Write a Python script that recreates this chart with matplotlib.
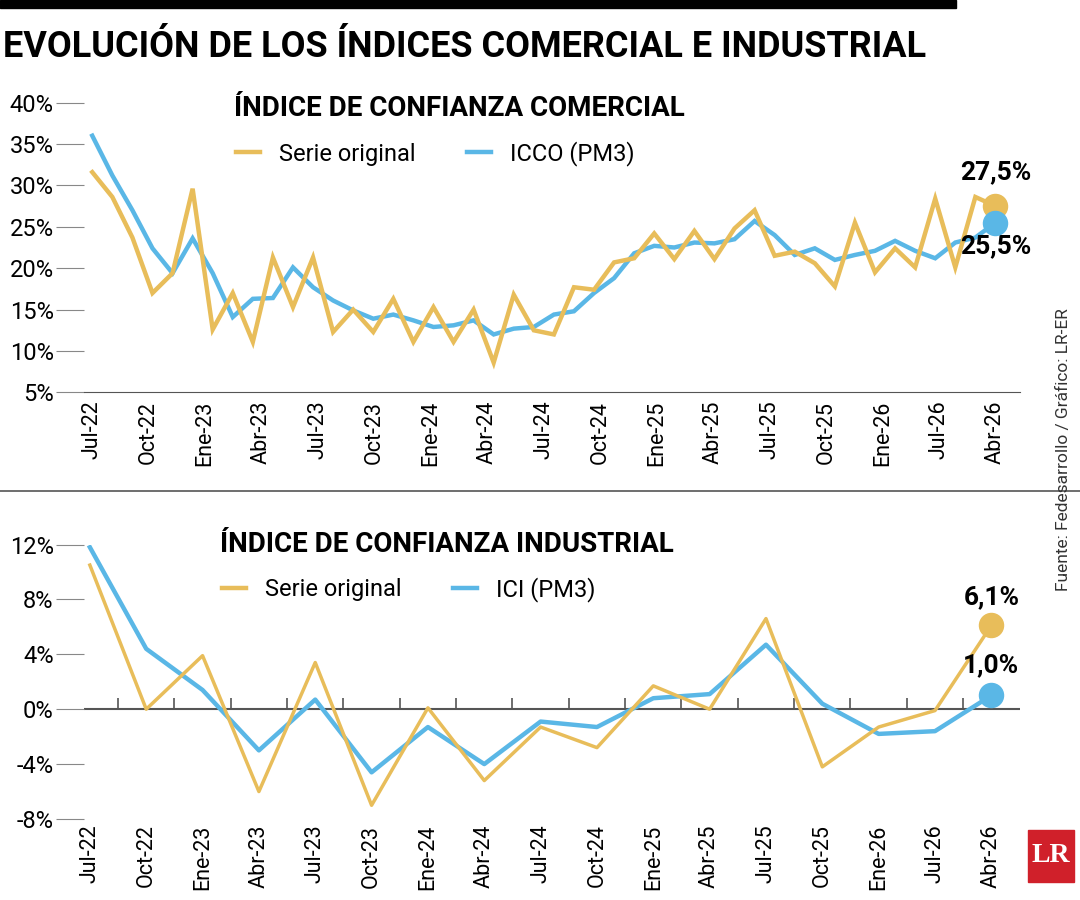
import matplotlib.pyplot as plt
import numpy as np

plt.rcParams["font.family"] = ["Liberation Sans Narrow", "Roboto", "DejaVu Sans"]

ORANGE = "#e8bd5a"
BLUE = "#5ab7e6"

# --------------------------------------------------
# Data
# --------------------------------------------------

com_labels = ["Jul-22", "Oct-22", "Ene-23", "Abr-23", "Jul-23", "Oct-23", "Ene-24", "Abr-24",
              "Jul-24", "Oct-24", "Ene-25", "Abr-25", "Jul-25", "Oct-25", "Ene-26", "Jul-26", "Abr-26"]

com_original = [31.6, 28.6, 23.7, 17.0, 19.4, 29.6, 12.6, 17.0, 11.1, 21.3, 15.3, 21.3,
                12.3, 15.0, 12.3, 16.3, 11.1, 15.3, 11.1, 15.0, 8.6, 16.8, 12.5, 12.0,
                17.7, 17.4, 20.7, 21.2, 24.2, 21.1, 24.5, 21.1, 24.8, 27.0, 21.5, 22.0,
                20.6, 17.8, 25.5, 19.5, 22.4, 20.1, 28.4, 20.1, 28.6, 27.5]
com_pm3 = [36.0, 31.2, 27.0, 22.4, 19.4, 23.6, 19.4, 14.1, 16.3, 16.4, 20.1, 17.7,
           16.1, 14.9, 13.9, 14.4, 13.7, 12.9, 13.1, 13.7, 12.0, 12.7, 12.9, 14.4,
           14.8, 17.0, 18.8, 21.8, 22.7, 22.5, 23.1, 23.0, 23.5, 25.7, 24.0, 21.6,
           22.4, 21.0, 21.6, 22.1, 23.3, 22.1, 21.2, 23.1, 23.7, 25.5]

ind_labels = com_labels
ind_original = [10.5, 0.0, 3.9, -6.0, 3.4, -7.0, 0.1, -5.2, -1.3, -2.8, 1.7, 0.0,
                6.6, -4.2, -1.3, -0.1, 6.1]
ind_pm3 = [11.8, 4.4, 1.4, -3.0, 0.7, -4.6, -1.3, -4.0, -0.9, -1.3, 0.8, 1.1,
           4.7, 0.4, -1.8, -1.6, 1.0]


def fmt_pct(v):
    return f"{v:.1f}%".replace(".", ",")


fig = plt.figure(figsize=(10.8, 9), dpi=100)

# header bar and title
fig.add_artist(plt.Rectangle((0, 0.991), 0.885, 0.009, transform=fig.transFigure,
                             color="black"))
fig.text(0.003, 0.948, "EVOLUCIÓN DE LOS ÍNDICES COMERCIAL E INDUSTRIAL",
         fontsize=26, fontweight="bold", va="center")

# --------------------------------------------------
# Commercial panel
# --------------------------------------------------

ax1 = fig.add_axes([0.078, 0.564, 0.866, 0.322])
x1 = np.arange(len(com_original))
ax1.plot(x1, com_pm3, color=BLUE, lw=3.2, solid_joinstyle="miter")
ax1.plot(x1, com_original, color=ORANGE, lw=3.2, solid_joinstyle="miter")
ax1.scatter([x1[-1]], [com_original[-1]], s=300, color=ORANGE, zorder=5)
ax1.scatter([x1[-1]], [com_pm3[-1]], s=300, color=BLUE, zorder=5)
ax1.text(x1[-1], com_original[-1] + 2.6, fmt_pct(com_original[-1]), fontsize=19,
         fontweight="bold", ha="center", va="bottom")
ax1.text(x1[-1], com_pm3[-1] - 1.4, fmt_pct(com_pm3[-1]), fontsize=19,
         fontweight="bold", ha="center", va="top")

ax1.set_xlim(-0.4, 46.2)
ax1.set_ylim(5, 40)
ax1.set_yticks(range(5, 41, 5))
ax1.set_yticklabels([f"{v}%" for v in range(5, 41, 5)], fontsize=17)
ax1.set_xticks(np.linspace(0, len(com_original) - 1, len(com_labels)))
ax1.set_xticklabels(com_labels, rotation=90, fontsize=15.5)
ax1.tick_params(axis="y", length=20, color="#888888", pad=2)
ax1.tick_params(axis="x", length=0, pad=6)
for s in ["top", "right", "left"]:
    ax1.spines[s].set_visible(False)
ax1.spines["bottom"].set_color("#555555")
ax1.text(0.16, 0.98, "ÍNDICE DE CONFIANZA COMERCIAL", transform=ax1.transAxes,
         fontsize=20, fontweight="bold", va="center")
l1, = ax1.plot([], [], color=ORANGE, lw=3.2)
l2, = ax1.plot([], [], color=BLUE, lw=3.2)
ax1.legend([l1, l2], ["Serie original", "ICCO (PM3)"], loc="upper left",
           bbox_to_anchor=(0.14, 0.94), ncol=2, frameon=False, fontsize=17,
           handlelength=1.0, columnspacing=2.2)

# separator
fig.add_artist(plt.Line2D([0, 1], [0.455, 0.455], transform=fig.transFigure,
                          color="#555555", lw=1.2))

# --------------------------------------------------
# Industrial panel
# --------------------------------------------------

ax2 = fig.add_axes([0.078, 0.09, 0.866, 0.305])
x2 = np.arange(len(ind_original))
ax2.axhline(0, color="#555555", lw=1.5, zorder=1)
ax2.vlines(x2[1:] - 0.5, 0, 0.8, color="#555555", lw=1.2)
ax2.plot(x2, ind_pm3, color=BLUE, lw=3.2)
ax2.plot(x2, ind_original, color=ORANGE, lw=2.5)
ax2.scatter([x2[-1]], [ind_original[-1]], s=300, color=ORANGE, zorder=5)
ax2.scatter([x2[-1]], [ind_pm3[-1]], s=300, color=BLUE, zorder=5)
ax2.text(x2[-1], ind_original[-1] + 1.2, fmt_pct(ind_original[-1]), fontsize=19,
         fontweight="bold", ha="center", va="bottom")
ax2.text(x2[-1], ind_pm3[-1] + 1.3, fmt_pct(ind_pm3[-1]), fontsize=19,
         fontweight="bold", ha="center", va="bottom")

ax2.set_xlim(-0.1, 16.5)
ax2.set_ylim(-8, 12)
ax2.set_yticks(range(-8, 13, 4))
ax2.set_yticklabels([f"{v}%" for v in range(-8, 13, 4)], fontsize=17)
ax2.set_xticks(x2)
ax2.set_xticklabels(ind_labels, rotation=90, fontsize=15.5)
ax2.tick_params(axis="y", length=20, color="#888888", pad=2)
ax2.tick_params(axis="x", length=0, pad=4)
for s in ["top", "right", "left", "bottom"]:
    ax2.spines[s].set_visible(False)
ax2.text(0.145, 1.0, "ÍNDICE DE CONFIANZA INDUSTRIAL", transform=ax2.transAxes,
         fontsize=20, fontweight="bold", va="center")
l3, = ax2.plot([], [], color=ORANGE, lw=3.2)
l4, = ax2.plot([], [], color=BLUE, lw=3.2)
ax2.legend([l3, l4], ["Serie original", "ICI (PM3)"], loc="upper left",
           bbox_to_anchor=(0.125, 0.96), ncol=2, frameon=False, fontsize=17,
           handlelength=1.0, columnspacing=2.2)

# source + logo
fig.text(0.985, 0.5, "Fuente: Fedesarrollo / Gráfico: LR-ER", rotation=90,
         fontsize=12.5, ha="center", va="center", color="#333333")
fig.add_artist(plt.Rectangle((0.952, 0.02), 0.042, 0.058, transform=fig.transFigure,
                             color="#d0202a"))
fig.text(0.973, 0.049, "LR", fontsize=20, fontweight="bold", color="white",
         ha="center", va="center", family="Liberation Serif")

fig.savefig("out.png", dpi=100)
